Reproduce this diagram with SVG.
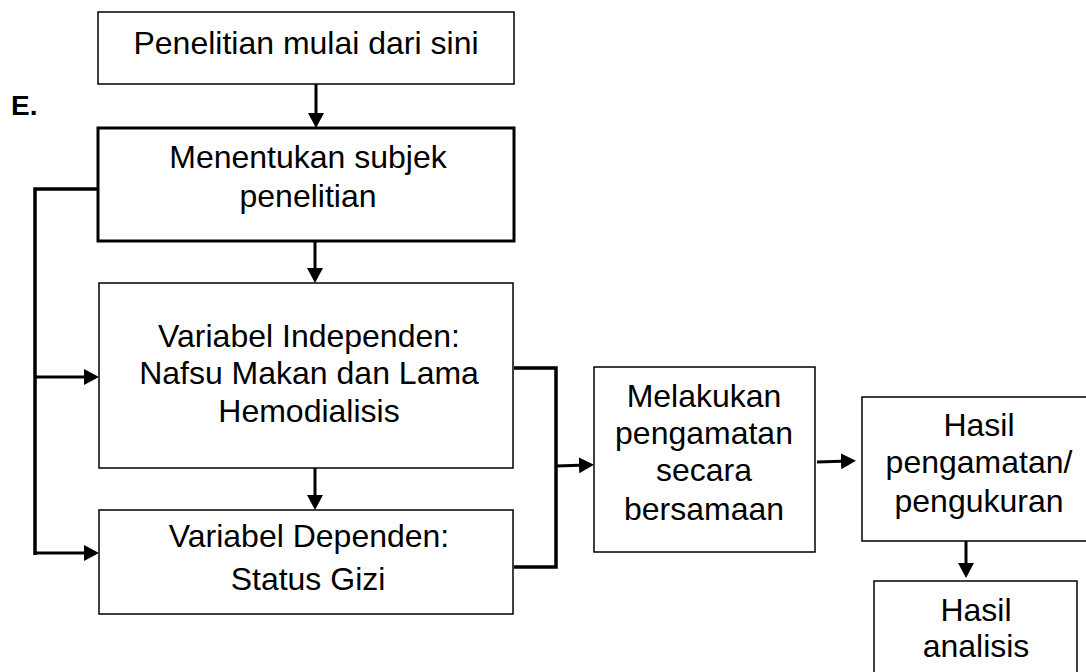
<svg xmlns="http://www.w3.org/2000/svg" width="1086" height="672" viewBox="0 0 1086 672">
<style>
  .box { fill: #fff; stroke: #000; stroke-width: 1.5; }
  .thick { stroke-width: 3; }
  .t { font-family: "Liberation Sans", Arial, sans-serif; font-size: 32px; fill: #000; text-anchor: middle; }
  .c { fill: none; stroke: #000; stroke-width: 3; }
  .br { fill: none; stroke: #000; stroke-width: 3.5; stroke-linejoin: miter; }
</style>
<defs>
  <marker id="ah" markerUnits="userSpaceOnUse" markerWidth="15" markerHeight="16" refX="8" refY="8" orient="auto" viewBox="0 0 15 16">
    <path d="M0,0 L15,8 L0,16 z" fill="#000"/>
  </marker>
</defs>
<rect width="1086" height="672" fill="#fff"/>
<text x="11" y="115" font-family="Liberation Sans, Arial, sans-serif" font-size="28" font-weight="bold">E.</text>

<g id="connectors">
  <line class="c" x1="316" y1="84" x2="316" y2="121" marker-end="url(#ah)"/>
  <line class="c" x1="315" y1="241" x2="315" y2="276" marker-end="url(#ah)"/>
  <line class="c" x1="315" y1="468" x2="315" y2="503" marker-end="url(#ah)"/>
  <polyline class="br" points="98,189 35,189 35,555"/>
  <line class="c" x1="35" y1="377" x2="92" y2="377" marker-end="url(#ah)"/>
  <line class="c" x1="35" y1="553" x2="92" y2="553" marker-end="url(#ah)"/>
  <polyline class="br" points="514,368 556,368 556,567 514,567"/>
  <line class="c" x1="556" y1="466" x2="587" y2="465" marker-end="url(#ah)"/>
  <line class="c" x1="817" y1="462" x2="849" y2="461" marker-end="url(#ah)"/>
  <line class="c" x1="966" y1="536" x2="966" y2="571" marker-end="url(#ah)"/>
</g>

<g id="n1">
  <rect class="box" x="98" y="12" width="416" height="72"/>
  <text class="t" x="306" y="54">Penelitian mulai dari sini</text>
</g>
<g id="n2">
  <rect class="box thick" x="98" y="128" width="416" height="113"/>
  <text class="t" x="308" y="168">Menentukan subjek</text>
  <text class="t" x="308" y="207">penelitian</text>
</g>
<g id="n3">
  <rect class="box" x="99" y="283" width="414" height="185"/>
  <text class="t" x="309" y="347">Variabel Independen:</text>
  <text class="t" x="309" y="384">Nafsu Makan dan Lama</text>
  <text class="t" x="309" y="422">Hemodialisis</text>
</g>
<g id="n4">
  <rect class="box" x="99" y="510" width="414" height="104" stroke-width="2"/>
  <text class="t" x="309" y="547">Variabel Dependen:</text>
  <text class="t" x="308" y="590">Status Gizi</text>
</g>
<g id="n5">
  <rect class="box" x="594" y="367" width="221" height="185"/>
  <text class="t" x="704" y="407">Melakukan</text>
  <text class="t" x="704" y="444">pengamatan</text>
  <text class="t" x="704" y="481">secara</text>
  <text class="t" x="704" y="520">bersamaan</text>
</g>
<g id="n6">
  <rect class="box" x="862" y="397" width="240" height="144"/>
  <text class="t" x="979" y="436">Hasil</text>
  <text class="t" x="979" y="473">pengamatan/</text>
  <text class="t" x="979" y="512">pengukuran</text>
</g>
<g id="n7">
  <rect class="box" x="874" y="581" width="203" height="110" stroke-width="2"/>
  <text class="t" x="976" y="621">Hasil</text>
  <text class="t" x="976" y="657">analisis</text>
</g>
</svg>
